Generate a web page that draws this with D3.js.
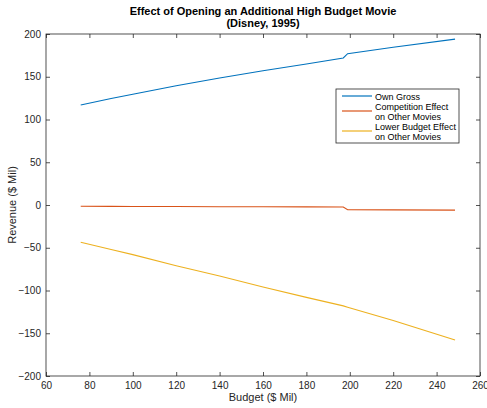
<!DOCTYPE html>
<html>
<head>
    <meta charset="utf-8"/>
    <script src="https://cdnjs.cloudflare.com/ajax/libs/d3/7.8.5/d3.min.js"></script>
    <style>
        body { margin:0; background:#fff; }
        text { font-family: "Liberation Sans", Arial, sans-serif; }
    </style>
</head>
<body>
<svg id="chart" width="487" height="408"></svg>
<script>
    // values
    let budget = [76, 90, 100, 120, 140, 160, 180, 197, 199, 220, 248.5];
    let ownGross = [117, 124.5, 129.5, 139.5, 148.5, 157, 165, 172, 177, 184.5, 194];
    let competition = [-1.5, -1.6, -1.7, -1.8, -2, -2, -2.2, -2.3, -5.5, -5.7, -6];
    let lowerBudget = [-43.5, -52, -58, -71, -83, -96, -108, -118, -119.5, -135, -158];
    let xTicks = [60, 80, 100, 120, 140, 160, 180, 200, 220, 240, 260];
    let yTicks = [-200, -150, -100, -50, 0, 50, 100, 150, 200];
    let seriesNames = [["Own Gross"], ["Competition Effect", "on Other Movies"], ["Lower Budget Effect", "on Other Movies"]];
    let colors = ["#0072BD", "#D95319", "#EDB120"];

    let svg = d3.select("#chart");
    let pLeft = 46, pRight = 480, pTop = 34, pBottom = 376;

    let x = d3.scaleLinear().domain([60, 260]).range([pLeft, pRight]);
    let y = d3.scaleLinear().domain([-200, 200]).range([pBottom, pTop]);

    // box
    svg.append("rect")
        .attr("x", pLeft).attr("y", pTop)
        .attr("width", pRight - pLeft).attr("height", pBottom - pTop)
        .attr("fill", "none").attr("stroke", "#262626").attr("stroke-width", 0.8);

    // ticks (inside)
    let xAx = d3.axisBottom(x).tickValues(xTicks).tickSize(-4).tickPadding(6);
    let gx = svg.append("g").attr("transform", "translate(0," + pBottom + ")").call(xAx);
    let gxTop = svg.append("g").attr("transform", "translate(0," + pTop + ")")
        .call(d3.axisTop(x).tickValues(xTicks).tickSize(-4).tickFormat(""));
    let yAx = d3.axisLeft(y).tickValues(yTicks).tickSize(-4).tickPadding(5);
    let gy = svg.append("g").attr("transform", "translate(" + pLeft + ",0)").call(yAx);
    let gyR = svg.append("g").attr("transform", "translate(" + pRight + ",0)")
        .call(d3.axisRight(y).tickValues(yTicks).tickSize(-4).tickFormat(""));

    [gx, gxTop, gy, gyR].forEach(function(g) {
        g.select(".domain").remove();
        g.selectAll("line").attr("stroke", "#262626").attr("stroke-width", 0.8);
        g.selectAll("text").attr("fill", "#262626").style("font-size", "10px")
            .style("font-family", "Liberation Sans, Arial, sans-serif");
    });

    // lines
    let line = d3.line().x(function(d) { return x(d[0]); }).y(function(d) { return y(d[1]); });
    [ownGross, competition, lowerBudget].forEach(function(vals, i) {
        svg.append("path")
            .datum(budget.map(function(b, j) { return [b, vals[j]]; }))
            .attr("d", line)
            .attr("fill", "none")
            .attr("stroke", colors[i])
            .attr("stroke-width", 1.1);
    });

    // title
    svg.append("text").text("Effect of Opening an Additional High Budget Movie")
        .attr("x", (pLeft + pRight) / 2).attr("y", 15)
        .attr("text-anchor", "middle").style("font-weight", "bold").style("font-size", "11px");
    svg.append("text").text("(Disney, 1995)")
        .attr("x", (pLeft + pRight) / 2).attr("y", 27)
        .attr("text-anchor", "middle").style("font-weight", "bold").style("font-size", "11px");

    // axis labels
    svg.append("text").text("Budget ($ Mil)")
        .attr("x", (pLeft + pRight) / 2).attr("y", 401)
        .attr("text-anchor", "middle").style("font-size", "11px").attr("fill", "#262626");
    svg.append("text").text("Revenue ($ Mil)")
        .attr("transform", "translate(16," + (pTop + pBottom) / 2 + ") rotate(-90)")
        .attr("text-anchor", "middle").style("font-size", "11px").attr("fill", "#262626");

    // legend
    let lg = svg.append("g");
    lg.append("rect").attr("x", 336).attr("y", 89).attr("width", 123).attr("height", 54)
        .attr("fill", "#fff").attr("stroke", "#262626").attr("stroke-width", 0.8);
    let rowY = 96;
    seriesNames.forEach(function(names, i) {
        let midY = rowY + (names.length - 1) * 5;
        lg.append("line").attr("x1", 342).attr("x2", 372)
            .attr("y1", midY).attr("y2", midY)
            .attr("stroke", colors[i]).attr("stroke-width", 1.2);
        names.forEach(function(n, k) {
            lg.append("text").text(n)
                .attr("x", 375).attr("y", rowY + k * 10 + 3.5)
                .style("font-size", "9px").attr("fill", "#000");
        });
        rowY += names.length * 10;
    });
</script>
</body>
</html>
